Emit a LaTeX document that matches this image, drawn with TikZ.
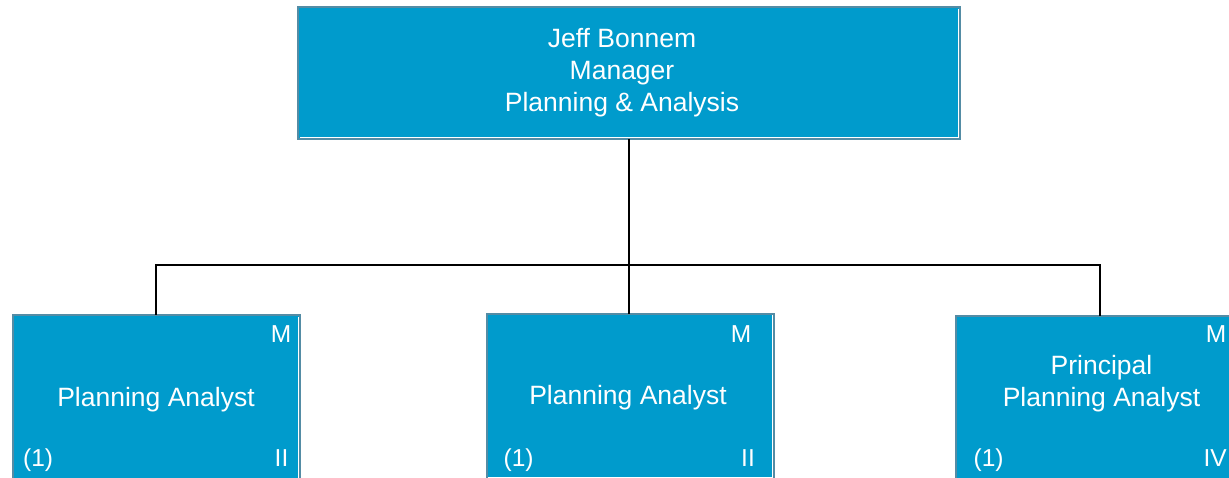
\documentclass[tikz,border=0pt]{standalone}
\usepackage{fontspec}
\setmainfont{Liberation Sans}
\definecolor{boxfill}{RGB}{0,155,204}
\definecolor{boxline}{RGB}{84,140,165}
\begin{document}
\begin{tikzpicture}[x=1pt,y=-1pt,
  box/.style={draw=boxline,line width=2pt,fill=boxfill,anchor=north west,inner sep=0pt,outer sep=0pt},
  maintext/.style={text=white,inner sep=0pt,anchor=base,align=center,font=\fontsize{26.5}{31.6}\selectfont},
  corner/.style={text=white,inner sep=0pt,font=\fontsize{24.5}{28}\selectfont},
  conn/.style={draw=black,line width=2pt},
  hilite/.style={draw=white,line width=1.2pt}]
\useasboundingbox (0,0) rectangle (1229,477);
\clip (0,0) rectangle (1229,477);
% boxes
\node[box,minimum width=662pt,minimum height=132pt] (mgr) at (298,7) {};
\node[box,minimum width=287.5pt,minimum height=166pt] (c1) at (12.5,315) {};
\node[box,minimum width=287.5pt,minimum height=166pt] (c2) at (486.5,313.5) {};
\node[box,minimum width=288pt,minimum height=166pt] (c3) at (956,315.5) {};
% white inner edges
\foreach \b in {mgr,c1,c2,c3}{
  \draw[hilite] ([xshift=-1.6pt,yshift=-1.6pt]\b.north east) -- ([xshift=-1.6pt,yshift=1.6pt]\b.south east) -- ([xshift=1.6pt,yshift=1.6pt]\b.south west);
}
% connectors
\draw[conn] (mgr.south) -- (mgr.south |- c2.north);
\draw[conn] (mgr.south) ++(0,126) coordinate (bus) -| (c1.north);
\draw[conn] (bus) -| (c3.north);
% texts
\node[maintext] (tmgr) at (622,111) {Jeff Bonnem\\Manager\\Planning \& Analysis};
\node[maintext] (t1) at (156,406) {Planning Analyst};
\node[maintext] (t2) at (628,404) {Planning Analyst};
\node[maintext] (t3) at (1101.5,406) {Principal\\Planning Analyst};
% corner labels
\node[corner,anchor=north east] (m1) at (291.5,325) {M};
\node[corner,anchor=base west] (n1) at (23,466) {(1)};
\node[corner,anchor=base east] (g1) at (288.5,466) {II};
\node[corner,anchor=north east] (m2) at (751.5,325) {M};
\node[corner,anchor=base west] (n2) at (503.5,466.5) {(1)};
\node[corner,anchor=base east] (g2) at (755,466.5) {II};
\node[corner,anchor=north east] (m3) at (1226.5,325.5) {M};
\node[corner,anchor=base west] (n3) at (973.5,466.5) {(1)};
\node[corner,anchor=base east] (g3) at (1227,466.5) {IV};
\end{tikzpicture}
\end{document}
